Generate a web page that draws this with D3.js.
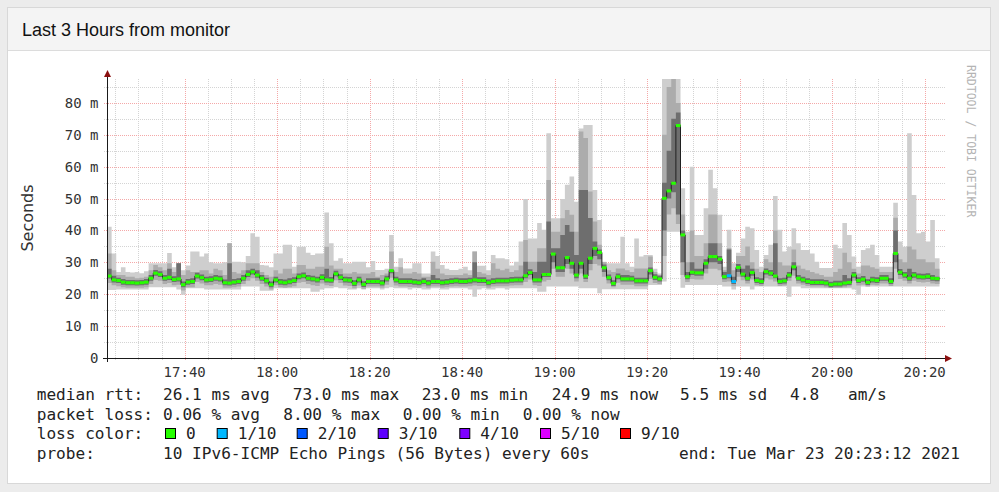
<!DOCTYPE html>
<html>
<head>
<meta charset="utf-8">
<script src="https://cdn.jsdelivr.net/npm/d3@7"></script>
<style>
  body { margin: 0; background: #ececec; }
  svg { display: block; }
</style>
</head>
<body>
<script>
// graph window: last 3 hours, one sample per minute (180 samples)
var START = new Date(2021, 2, 23, 17, 23, 12);
var END = new Date(2021, 2, 23, 20, 23, 12);

// median rtt in ms
var median = [
  25.7,24.5,24.3,23.8,23.6,23.6,23.5,23.6,23.8,25.0,
  26.6,26.2,25.0,25.3,24.6,24.8,23.0,23.8,24.0,25.7,
  25.2,24.5,24.6,25.0,24.8,23.6,23.5,23.8,24.0,25.0,
  26.2,27.0,26.0,25.0,24.2,23.0,24.5,23.8,23.6,23.9,
  24.3,25.5,25.8,25.0,24.8,24.5,25.3,24.5,24.4,26.4,
  25.3,24.5,24.4,23.4,24.5,23.1,24.0,24.0,24.0,23.5,
  24.8,27.4,24.5,24.0,24.0,24.0,23.8,23.6,24.0,23.5,
  24.0,24.0,23.6,23.8,24.0,24.2,24.0,24.0,24.2,24.5,
  24.3,24.3,23.6,24.0,24.2,24.2,24.2,24.4,24.5,24.5,
  25.8,26.8,24.5,24.5,26.2,26.2,32.6,28.3,28.3,31.5,
  29.7,26.0,29.7,25.7,31.3,34.4,33.1,28.3,25.2,23.4,
  25.5,24.8,24.8,24.8,24.2,24.2,24.2,27.4,25.3,24.8,
  50.1,52.4,54.8,72.9,38.6,25.5,26.9,26.7,26.7,29.7,
  31.8,31.8,31.0,25.5,25.8,24.0,28.4,26.3,25.0,26.8,
  24.3,24.0,27.1,26.6,25.7,24.0,24.2,26.0,28.6,25.0,
  24.5,24.0,23.7,23.7,23.7,23.5,23.0,23.2,23.2,23.5,
  23.7,26.0,24.3,24.7,23.7,24.5,24.3,25.0,25.0,24.0,
  32.8,26.9,26.0,25.0,26.0,25.5,25.4,25.6,25.0,24.9
];
// fastest ping of each round (ms)
var pingMin = [
  21.3,21.3,21.5,21.5,21.5,21.5,21.5,21.5,21.5,22.2,
  22.2,22.2,22.2,22.2,22.2,21.5,19.8,21.9,21.9,21.9,
  21.9,21.5,21.5,21.5,21.5,21.5,21.5,21.5,21.5,22.4,
  22.4,22.4,22.4,21.1,21.1,21.1,21.9,21.9,21.9,21.9,
  21.9,21.9,21.9,21.9,20.8,20.8,21.5,21.9,21.9,22.2,
  21.9,21.9,21.5,21.5,21.9,21.5,21.9,21.9,21.9,21.5,
  21.9,22.2,21.9,21.9,21.9,21.5,21.9,21.9,21.5,21.5,
  21.9,21.9,21.5,21.5,21.9,21.9,21.9,21.9,21.5,19.2,
  21.5,21.9,21.5,21.5,21.9,21.9,21.5,21.9,21.9,21.9,
  21.9,21.9,21.9,20.8,20.8,22.4,22.4,22.4,22.4,22.4,
  22.4,22.4,21.9,21.9,21.9,21.9,20.3,21.6,21.6,21.6,
  21.6,21.6,21.6,21.6,21.6,21.6,21.6,22.9,22.9,22.9,
  24.0,39.6,39.6,39.6,22.0,22.9,22.9,22.9,22.9,22.9,
  22.9,22.9,22.9,22.4,22.4,21.5,22.4,22.4,22.4,21.5,
  22.4,22.4,22.4,22.4,22.4,22.4,22.4,19.2,22.4,22.4,
  21.9,21.9,21.9,21.9,21.9,21.9,21.9,21.9,21.9,21.9,
  21.9,21.5,19.8,22.4,22.4,22.4,22.4,22.4,22.4,22.4,
  22.4,22.4,22.4,22.4,22.4,22.4,22.4,22.4,22.4,22.4
];
// slowest ping of each round (ms), 87.5 = off the top of the graph
var pingMax = [
  41.2,32.8,27.0,28.5,27.0,26.8,27.0,26.6,27.2,29.7,
  29.7,29.7,29.7,32.9,28.5,29.7,27.5,29.0,33.4,33.4,
  31.8,32.8,30.0,29.7,29.7,30.0,36.0,30.2,30.2,30.0,
  32.0,39.1,38.0,29.2,29.0,28.5,32.8,32.8,35.5,35.5,
  28.6,34.9,34.9,33.0,32.3,32.8,32.8,45.6,36.0,30.5,
  31.3,29.7,29.7,30.2,30.2,30.2,28.5,30.4,27.6,27.6,
  28.0,38.6,28.6,31.3,28.1,28.1,29.7,29.7,26.5,26.5,
  33.4,32.0,29.2,28.0,27.6,27.6,28.0,28.6,27.5,33.4,
  28.9,28.9,27.5,32.3,31.3,31.3,31.0,29.0,30.2,36.5,
  49.9,37.5,37.5,42.3,40.2,70.5,43.8,43.8,49.9,54.3,
  56.9,49.0,72.0,73.1,73.1,52.7,43.3,30.2,29.7,29.7,
  29.7,38.0,29.7,28.6,37.5,31.8,32.3,32.3,28.0,26.5,
  87.5,87.5,87.5,87.5,53.2,39.6,60.0,38.6,38.6,47.0,
  59.0,53.2,44.9,28.6,40.2,29.7,33.0,37.5,41.2,40.7,
  33.9,28.6,32.3,35.5,50.8,40.2,33.4,34.9,40.7,36.0,
  33.9,33.9,32.8,30.2,28.2,28.2,28.2,35.5,34.4,42.3,
  38.6,31.8,28.6,33.9,34.4,35.5,32.3,28.6,28.6,28.6,
  48.7,36.5,34.9,70.5,51.1,39.1,39.6,36.5,43.3,31.3
];
// middle smoke band (2nd..9th ping)
var midLo = [
  23.5,22.8,22.5,22.2,22.0,22.0,22.0,22.0,22.2,23.2,
  24.5,24.2,23.2,23.5,22.8,23.0,21.2,22.2,22.2,23.8,
  23.4,22.8,22.8,23.2,23.0,22.0,22.0,22.2,22.4,23.2,
  24.2,25.0,24.2,23.2,22.4,21.5,22.8,22.2,22.0,22.2,
  22.5,23.6,23.8,23.2,22.8,22.6,23.4,22.8,22.6,24.4,
  23.5,22.7,22.6,21.9,22.7,21.7,22.4,22.4,22.4,22.0,
  23.0,25.2,22.7,22.4,22.4,22.3,22.2,22.0,22.4,22.0,
  22.4,22.4,22.0,22.2,22.4,22.5,22.4,22.4,22.5,22.7,
  22.6,22.6,22.0,22.4,22.5,22.5,22.5,22.7,22.8,22.8,
  23.8,24.6,22.8,22.6,24.0,24.5,28.0,25.5,25.5,28.0,
  26.5,24.0,26.5,23.8,27.5,29.5,29.0,25.5,23.4,22.2,
  23.6,23.0,23.0,23.0,22.5,22.5,22.5,24.8,23.5,23.2,
  32.0,45.0,47.0,42.0,26.0,23.8,24.8,24.6,24.6,26.5,
  28.0,28.0,27.5,23.8,24.0,22.5,25.5,24.4,23.4,24.6,
  22.8,22.6,25.0,24.6,24.0,22.6,22.7,24.2,25.8,23.4,
  23.0,22.6,22.4,22.4,22.4,22.2,22.0,22.0,22.0,22.2,
  22.4,24.2,22.7,23.0,22.4,23.0,22.8,23.4,23.4,22.6,
  28.0,24.8,24.2,23.4,24.2,23.8,23.7,23.8,23.4,23.2
];
var midHi = [
  32.8,27.5,26.0,26.0,25.5,25.5,25.0,25.2,25.5,27.5,
  29.2,28.5,27.5,29.7,27.0,29.7,26.0,27.5,27.0,27.0,
  27.5,27.5,26.5,28.0,27.5,26.0,36.0,27.0,26.5,27.5,
  29.7,29.7,29.7,27.0,26.0,25.5,27.5,26.5,28.0,28.0,
  26.5,29.2,29.2,28.0,28.0,28.6,28.6,34.9,29.0,28.0,
  28.0,26.5,26.5,27.0,26.5,26.5,26.5,27.0,25.5,26.0,
  26.5,33.4,27.0,28.5,26.5,26.5,27.0,26.5,25.5,25.5,
  30.2,28.0,26.5,26.0,26.0,26.0,26.0,26.5,26.0,33.4,
  27.0,26.5,26.0,29.7,28.0,27.5,28.0,27.0,27.5,29.0,
  37.0,30.2,30.2,34.4,34.4,55.8,39.6,39.6,43.8,46.4,
  44.9,39.6,71.0,69.0,52.2,42.8,35.5,30.0,27.5,27.0,
  28.1,28.1,27.5,27.0,28.1,28.1,28.1,31.8,27.0,26.0,
  70.0,85.0,87.5,80.0,45.0,30.0,40.0,32.0,32.0,36.0,
  45.0,45.0,36.0,27.5,34.4,27.5,32.0,32.0,35.0,30.0,
  28.0,27.0,31.0,30.0,40.0,30.0,29.0,29.0,34.0,29.0,
  28.0,27.5,27.0,26.5,26.0,25.5,25.5,27.0,28.0,33.0,
  30.0,28.0,26.5,29.0,29.0,28.5,28.0,27.0,27.0,27.0,
  44.0,31.0,30.0,35.0,34.0,31.0,31.0,30.0,30.0,28.0
];
// inner smoke band (pings around the median)
var coreLo = [
  24.9,23.7,23.5,23.0,22.8,22.8,22.7,22.8,23.0,24.2,
  25.8,25.4,24.2,24.5,23.8,24.0,22.2,23.0,23.2,24.9,
  24.4,23.7,23.8,24.2,24.0,22.8,22.7,23.0,23.2,24.2,
  25.4,26.2,25.2,24.2,23.4,22.2,23.7,23.0,22.8,23.1,
  23.5,24.7,25.0,24.2,24.0,23.7,24.5,23.7,23.6,25.6,
  24.5,23.7,23.6,22.6,23.7,22.3,23.2,23.2,23.2,22.7,
  24.0,26.6,23.7,23.2,23.2,23.2,23.0,22.8,23.2,22.7,
  23.2,23.2,22.8,23.0,23.2,23.4,23.2,23.2,23.4,23.7,
  23.5,23.5,22.8,23.2,23.4,23.4,23.4,23.6,23.7,23.7,
  25.0,26.0,23.7,23.7,25.4,25.4,30.0,27.0,27.0,29.5,
  28.0,25.0,28.0,24.8,29.5,32.0,31.0,27.0,24.4,22.6,
  24.7,24.0,24.0,24.0,23.4,23.4,23.4,26.2,24.5,24.0,
  40.0,50.0,52.0,45.0,30.0,24.7,26.0,25.8,25.8,28.0,
  30.0,30.0,29.5,24.7,25.0,23.2,27.0,25.5,24.2,25.8,
  23.5,23.2,26.2,25.8,25.0,23.2,23.4,25.2,27.5,24.2,
  23.7,23.2,22.9,22.9,22.9,22.7,22.2,22.4,22.4,22.7,
  22.9,25.2,23.5,23.9,22.9,23.7,23.5,24.2,24.2,23.2,
  30.0,26.0,25.2,24.2,25.2,24.7,24.6,24.8,24.2,24.1
];
var coreHi = [
  28.0,25.8,25.2,24.8,24.5,24.5,24.4,24.5,24.8,26.0,
  27.6,27.2,26.0,28.0,25.6,29.7,24.0,24.8,25.0,26.7,
  26.2,25.5,25.6,26.0,25.8,24.6,29.7,24.8,25.0,26.0,
  27.5,28.0,27.5,26.0,25.2,24.0,25.5,24.8,24.6,25.0,
  25.3,26.5,26.8,26.0,25.8,25.5,26.3,28.0,25.4,27.4,
  26.3,25.5,25.4,24.4,25.5,24.1,25.0,25.0,25.0,24.5,
  25.8,27.6,25.5,25.0,25.0,25.0,24.8,24.6,25.0,24.5,
  26.0,25.0,24.6,24.8,25.0,25.2,25.0,25.0,25.2,30.0,
  25.3,25.3,24.6,25.0,25.2,25.2,25.2,25.4,25.5,25.5,
  30.2,27.8,27.0,30.2,30.2,42.8,34.4,34.4,38.6,41.7,
  39.6,32.3,52.7,52.7,43.9,36.5,34.0,29.3,26.2,24.4,
  26.5,26.0,26.0,25.8,25.2,25.2,25.2,28.4,26.3,25.8,
  55.0,65.0,75.0,77.0,40.0,27.0,30.0,28.0,28.0,31.0,
  36.0,36.0,32.0,27.0,34.0,25.5,29.5,28.0,29.0,28.0,
  25.3,25.0,28.1,27.6,36.0,25.0,25.2,27.0,30.0,26.0,
  25.5,25.0,24.7,24.7,24.7,24.5,23.9,24.2,24.2,26.0,
  25.0,27.0,25.3,25.7,24.7,25.5,25.3,26.0,26.0,25.0,
  40.0,27.9,27.0,28.0,27.0,26.5,26.4,26.6,26.0,25.5
];
// samples that lost 1 of 10 pings
var lossOneSamples = [134, 135];

var lossLevels = ["0", "1/10", "2/10", "3/10", "4/10", "5/10", "9/10"];
var lossColors = ["#26ff00", "#00b8ff", "#0059ff", "#5e00ff", "#7e00ff", "#dd00ff", "#ff0000"];

var yTicks = [0, 10, 20, 30, 40, 50, 60, 70, 80];

var legendRtt = ["26.1 ms avg", "73.0 ms max", "23.0 ms min", "24.9 ms now", "5.5 ms sd", "4.8", "am/s"];
var legendLoss = ["0.06 % avg", "8.00 % max", "0.00 % min", "0.00 % now"];

var W = 999, H = 492;
var svg = d3.select("body").append("svg").attr("width", W).attr("height", H);

// panel + header
svg.append("rect").attr("x", 7.5).attr("y", 7.5).attr("width", 983).attr("height", 476)
  .attr("fill", "#fff").attr("stroke", "#d8d8d8");
svg.append("rect").attr("x", 8).attr("y", 8).attr("width", 982).attr("height", 42).attr("fill", "#f4f4f4");
svg.append("line").attr("x1", 8).attr("x2", 990).attr("y1", 50.5).attr("y2", 50.5).attr("stroke", "#dcdcdc");
svg.append("text").attr("x", 22).attr("y", 35.5)
  .attr("font-family", "Liberation Sans, Arial, sans-serif").attr("font-size", 18).attr("fill", "#111")
  .text("Last 3 Hours from monitor");

// scales
var x = d3.scaleTime().domain([START, END]).range([107, 939.5]);
var y = d3.scaleLinear().domain([0, 87.5]).range([358, 79]);
var gridRight = 945;

var pts = median.map(function (m, i) {
  return { t: new Date(START.getTime() + i * 60000), i: i };
});
// extra point so the last step reaches the end
pts.push({ t: END, i: median.length - 1 });

// grid
var grid = svg.append("g");
d3.timeMinute.every(5).range(START, END).forEach(function (t) {
  var major = t.getMinutes() % 20 === 0;
  grid.append("line")
    .attr("x1", Math.round(x(t)) + 0.5).attr("x2", Math.round(x(t)) + 0.5)
    .attr("y1", 79).attr("y2", 360)
    .attr("stroke", major ? "#f4a8a8" : "#d4d4d4")
    .attr("stroke-dasharray", "1,1");
});
d3.range(5, 90, 5).forEach(function (v) {
  var major = v % 10 === 0;
  grid.append("line")
    .attr("x1", 104).attr("x2", gridRight)
    .attr("y1", Math.round(y(v)) + 0.5).attr("y2", Math.round(y(v)) + 0.5)
    .attr("stroke", major ? "#f4a8a8" : "#d4d4d4")
    .attr("stroke-dasharray", "1,1");
});

// smoke
function band(lo, hi, color) {
  var area = d3.area()
    .curve(d3.curveStepAfter)
    .x(function (d) { return x(d.t); })
    .y0(function (d) { return y(lo[d.i]); })
    .y1(function (d) { return y(hi[d.i]); });
  svg.append("path").datum(pts).attr("d", area).attr("fill", color);
}
band(pingMin, pingMax, "#cecece");
band(midLo, midHi, "#acacac");
band(coreLo, coreHi, "#6e6e6e");

// median line
var medLine = d3.line()
  .curve(d3.curveStepAfter)
  .x(function (d) { return x(d.t); })
  .y(function (d) { return y(median[d.i]); });
svg.append("path").datum(pts).attr("d", medLine)
  .attr("fill", "none").attr("stroke", "#202020").attr("stroke-width", 1);

// median marks coloured by loss
svg.append("g").selectAll("rect").data(pts.slice(0, median.length)).join("rect")
  .attr("x", function (d) { return x(d.t); })
  .attr("width", function (d) { return x(pts[d.i + 1].t) - x(d.t); })
  .attr("y", function (d) { return y(median[d.i]) - 1.5; })
  .attr("height", 3)
  .attr("fill", function (d) { return lossOneSamples.indexOf(d.i) >= 0 ? lossColors[1] : lossColors[0]; });

// axes
var axisColor = "#1a1a1a", arrowColor = "#8b1010";
svg.append("line").attr("x1", 103).attr("x2", 946).attr("y1", 358.5).attr("y2", 358.5)
  .attr("stroke", axisColor);
svg.append("line").attr("x1", 107.5).attr("x2", 107.5).attr("y1", 362).attr("y2", 76)
  .attr("stroke", axisColor);
svg.append("path").attr("d", "M945,355L952,358.5L945,362Z").attr("fill", arrowColor);
svg.append("path").attr("d", "M104,77L107.5,70L111,77Z").attr("fill", arrowColor);

var labelFont = "DejaVu Sans Mono, monospace";
svg.append("g").selectAll("text").data(yTicks).join("text")
  .attr("x", 98.5)
  .attr("y", function (d) { return y(d) + 5; })
  .attr("text-anchor", "end")
  .attr("font-family", labelFont).attr("font-size", 14).attr("fill", "#333")
  .text(function (d) { return d === 0 ? "0" : d + " m"; });

var xTicks = d3.timeMinute.every(20).range(START, END);
svg.append("g").selectAll("text").data(xTicks).join("text")
  .attr("x", function (d) { return x(d); })
  .attr("y", 376.5)
  .attr("text-anchor", "middle")
  .attr("font-family", labelFont).attr("font-size", 14).attr("fill", "#333")
  .text(d3.timeFormat("%H:%M"));

svg.append("text")
  .attr("transform", "translate(33,218) rotate(-90)")
  .attr("text-anchor", "middle")
  .attr("font-family", "DejaVu Sans, sans-serif").attr("font-size", 16).attr("fill", "#333")
  .text("Seconds");

svg.append("text")
  .attr("transform", "translate(967,65) rotate(90)")
  .attr("font-family", labelFont).attr("font-size", 11.5).attr("fill", "#b4b4b4")
  .text("RRDTOOL / TOBI OETIKER");

// legend
var leg = svg.append("g").attr("font-family", labelFont).attr("font-size", 16.1).attr("fill", "#222");
function put(tx, lx, ly) {
  leg.append("text").attr("x", lx).attr("y", ly).text(tx);
}
var rows = [400, 419.5, 439, 458.5];
put("median rtt:", 36.7, rows[0]);
[163, 292.7, 421.7, 551.7, 680, 790, 848].forEach(function (lx, k) { put(legendRtt[k], lx, rows[0]); });
put("packet loss:", 36.7, rows[1]);
[163, 283.3, 402.7, 522.7].forEach(function (lx, k) { put(legendLoss[k], lx, rows[1]); });
put("loss color:", 36.7, rows[2]);
[165, 216.7, 296.7, 377.7, 459.3, 540, 620].forEach(function (lx, k) {
  leg.append("rect").attr("x", lx + 0.5).attr("y", 428.5).attr("width", 10).attr("height", 10)
    .attr("fill", lossColors[k]).attr("stroke", "#000");
  put(lossLevels[k], lx + 21, rows[2]);
});
put("probe:", 36.7, rows[3]);
put("10 IPv6-ICMP Echo Pings (56 Bytes) every 60s", 163, rows[3]);
put("end: Tue Mar 23 20:23:12 2021", 679, rows[3]);
</script>
</body>
</html>
